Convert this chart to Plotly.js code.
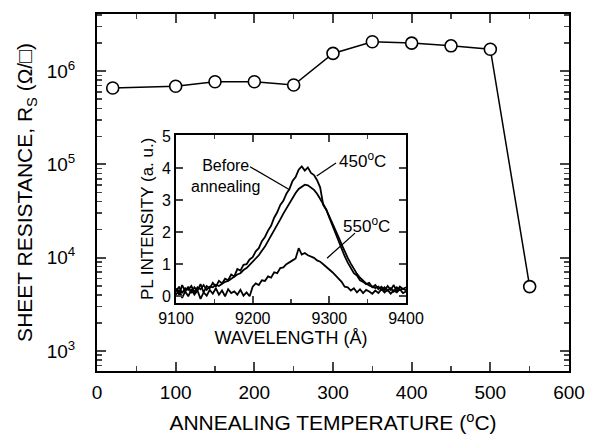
<!DOCTYPE html>
<html><head><meta charset="utf-8">
<script src="https://cdn.plot.ly/plotly-3.0.1.min.js"></script>
<style>body{margin:0;background:#fff}#chart{width:596px;height:446px}</style>
</head><body><div id="chart"></div>
<script>
// Main chart data
const temps = [20,100,150,200,250,300,350,400,450,500,550];
const sheetRes = [6.6e5,6.9e5,7.7e5,7.7e5,7.1e5,1.55e6,2.07e6,2.0e6,1.87e6,1.72e6,4.9e3];
const yTickVals = [1e3,1e4,1e5,1e6];
const yTickText = ['10<sup>3</sup>','10<sup>4</sup>','10<sup>5</sup>','10<sup>6</sup>'];

// Inset PL spectra
const wavelength = [9100,9104,9108,9112,9116,9120,9124,9128,9132,9136,9140,9144,9148,9152,9156,9160,9164,9168,9172,9176,9180,9184,9188,9192,9196,9200,9204,9208,9212,9216,9220,9224,9228,9232,9236,9240,9244,9248,9252,9256,9260,9264,9268,9272,9276,9280,9284,9288,9292,9296,9300,9304,9308,9312,9316,9320,9324,9328,9332,9336,9340,9344,9348,9352,9356,9360,9364,9368,9372,9376,9380,9384,9388,9392,9396,9400];
const pl450 = [0.25,0.05,0.35,0.15,0.30,0.10,0.28,0.18,0.38,0.12,
  0.32,0.25,0.42,0.30,0.48, 0.40,0.55,0.50,0.68,0.62, 0.85,0.80,0.98,1.00,1.15,
  1.22,1.40,1.50,1.72,1.85, 2.05,2.20,2.45,2.62,2.85, 2.98,3.20,3.35,3.60,3.72,
  3.95,4.05,3.92,4.02,3.85, 3.78,3.62,3.40,2.85,2.70, 2.45,2.20,1.95,1.70,1.45,
  1.25,1.05,0.90,0.72,0.65, 0.50,0.45,0.38,0.42,0.28, 0.35,0.22,0.30,0.18,0.32,
  0.20,0.35,0.15,0.30,0.22, 0.28];
const plBefore = [0.15,0.30,0.10,0.25,0.20,0.32,0.12,0.28,0.22,0.35,
  0.20,0.30,0.28,0.36,0.32, 0.40,0.45,0.48,0.55,0.60, 0.68,0.72,0.82,0.88,0.98,
  1.05,1.15,1.28,1.42,1.55, 1.72,1.88,2.05,2.22,2.40, 2.58,2.75,2.92,3.08,3.22,
  3.35,3.42,3.48,3.46,3.40, 3.32,3.20,3.05,2.88,2.70, 2.50,2.30,2.08,1.85,1.62,
  1.40,1.20,1.02,0.85,0.70, 0.58,0.48,0.40,0.34,0.30, 0.26,0.30,0.20,0.28,0.18,
  0.25,0.15,0.28,0.20,0.24, 0.18];
const pl550 = [0.05,0.20,-0.05,0.15,0.00,0.22,0.05,0.18,-0.08,0.12,
  0.02,0.20,0.08,0.25,0.05, 0.18,0.00,0.22,0.10,0.15, 0.05,0.20,0.02,0.12,0.00,
  0.30,0.40,0.35,0.50,0.48, 0.62,0.58,0.75,0.72,0.88, 0.90,1.00,1.05,1.12,1.18,
  1.50,1.30,1.35,1.28,1.25, 1.20,1.12,1.08,1.00,0.92, 0.85,0.75,0.65,0.55,0.45,
  0.30,0.28,0.18,0.25,0.12, 0.22,0.10,0.20,0.15,0.08, 0.18,0.10,0.22,0.12,0.20,
  0.08,0.18,0.12,0.22,0.10, 0.15];

const minorVals = [];
for (let e = 2; e <= 6; e++) for (let m = 2; m <= 9; m++) minorVals.push(m * Math.pow(10, e));

const FONT = 'Liberation Sans, Arial, sans-serif';
const specLine = {color:'#000', width:1.8};

const data = [
  {x: temps, y: sheetRes, type:'scatter', mode:'lines+markers', xaxis:'x', yaxis:'y',
   line:{color:'#000', width:1.5},
   marker:{symbol:'circle', size:12, color:'#fff', line:{color:'#000', width:1.6}}},
  {x: wavelength, y: plBefore, type:'scatter', mode:'lines', xaxis:'x2', yaxis:'y2', line:specLine},
  {x: wavelength, y: pl450, type:'scatter', mode:'lines', xaxis:'x2', yaxis:'y2', line:specLine},
  {x: wavelength, y: pl550, type:'scatter', mode:'lines', xaxis:'x2', yaxis:'y2', line:specLine}
];

const layout = {
  width:596, height:446, showlegend:false,
  paper_bgcolor:'#fff', plot_bgcolor:'rgba(0,0,0,0)',
  font:{family:FONT, size:18, color:'#000'},
  margin:{l:97, r:27, t:14, b:75},
  xaxis:{domain:[0,1], range:[0,600], dtick:100, tick0:0, ticks:'inside', ticklen:9, tickwidth:2,
    showline:true, linewidth:2, linecolor:'#000', mirror:'ticks', showgrid:false, zeroline:false,
    minor:{dtick:50, ticks:'inside', ticklen:5, tickwidth:1.5, showgrid:false},
    ticklabelstandoff:3,
    tickfont:{size:19}, title:{text:'ANNEALING TEMPERATURE (<sup>o</sup>C)', font:{size:21}, standoff:14}},
  yaxis:{domain:[0,1], type:'log', range:[2.785, 6.613], tickmode:'array', tickvals:yTickVals, ticktext:yTickText,
    ticks:'inside', ticklen:9, tickwidth:2, showline:true, linewidth:2, linecolor:'#000', mirror:'ticks',
    showgrid:false, zeroline:false, ticklabelstandoff:16,
    minor:{tickmode:'array', tickvals:minorVals, ticks:'inside', ticklen:5, tickwidth:1.5, showgrid:false},
    tickfont:{size:19}, title:{text:'SHEET RESISTANCE, R<sub>S</sub> (Ω/□)', font:{size:21}, standoff:8}},
  xaxis2:{domain:[0.1674,0.6547], anchor:'y2', range:[9100,9400], dtick:100, tick0:9100, ticks:'inside', ticklen:7, tickwidth:2,
    showline:true, linewidth:2, linecolor:'#000', mirror:'ticks', showgrid:false, zeroline:false,
    minor:{dtick:50, ticks:'inside', ticklen:4, tickwidth:1.5, showgrid:false},
    tickfont:{size:16}, title:{text:'WAVELENGTH (Å)', font:{size:18}, standoff:5}},
  yaxis2:{domain:[0.1913,0.661], anchor:'x2', range:[-0.2,5.03], dtick:1, tick0:0, ticks:'inside', ticklen:7, tickwidth:2,
    showline:true, linewidth:2, linecolor:'#000', mirror:'ticks', showgrid:false, zeroline:false,
    tickfont:{size:16}, title:{text:'PL INTENSITY (a. u.)', font:{size:17}, standoff:4}},
  annotations:[
    {xref:'x2', yref:'y2', x:9165, y:3.74, text:'Before<br>annealing', showarrow:false, font:{size:16}},
    {xref:'x2', yref:'y2', x:9343, y:4.25, text:'450<sup>o</sup>C', showarrow:false, font:{size:17}},
    {xref:'x2', yref:'y2', x:9349, y:2.22, text:'550<sup>o</sup>C', showarrow:false, font:{size:17}}
  ],
  shapes:[
    {type:'line', xref:'x2', yref:'y2', x0:9196.5, y0:4.04, x1:9248.7, y1:3.315, line:{color:'#000', width:1.3}},
    {type:'line', xref:'x2', yref:'y2', x0:9308.7, y0:4.156, x1:9283.5, y1:3.75, line:{color:'#000', width:1.3}},
    {type:'line', xref:'x2', yref:'y2', x0:9333.5, y0:1.97, x1:9297, y1:1.19, line:{color:'#000', width:1.3}}
  ]
};

Plotly.newPlot('chart', data, layout, {displayModeBar:false, staticPlot:true});
</script></body></html>
